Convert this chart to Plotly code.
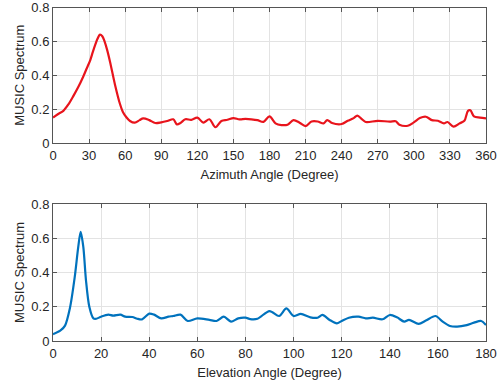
import plotly.graph_objects as go

az_deg = [0, 4, 8.6, 13, 17, 21, 25, 28, 31, 33, 35, 37, 39, 41, 43, 45, 47.4, 51.5, 55.7, 58, 61, 64, 68,
          72, 75, 80, 85, 90, 95, 100, 103, 106, 110, 115, 120, 125, 130, 135, 140, 145, 150, 155,
          160, 165, 170, 175, 180, 185, 190, 195, 200, 205, 210, 215, 220, 225, 228, 232, 240, 245,
          250, 253, 257, 260, 270, 280, 285, 288, 295, 300, 305, 310, 315, 320, 325, 328, 333, 338,
          342, 345, 347, 350, 355, 360]
az_val = [0.15, 0.17, 0.19, 0.23, 0.278, 0.33, 0.39, 0.44, 0.49, 0.535, 0.578, 0.615, 0.64, 0.63, 0.597, 0.55,
          0.48, 0.346, 0.23, 0.185, 0.152, 0.13, 0.12,
          0.135, 0.145, 0.135, 0.118, 0.122, 0.13, 0.14, 0.11, 0.118, 0.14, 0.137, 0.15, 0.12, 0.14,
          0.093, 0.13, 0.137, 0.147, 0.14,
          0.142, 0.14, 0.135, 0.125, 0.157, 0.116, 0.106, 0.108, 0.135, 0.12, 0.10, 0.127, 0.127,
          0.116, 0.135, 0.118, 0.112, 0.131,
          0.147, 0.162, 0.14, 0.124, 0.131, 0.126, 0.128, 0.108, 0.102, 0.122, 0.147, 0.155, 0.135,
          0.131, 0.116, 0.124, 0.097, 0.116,
          0.131, 0.19, 0.193, 0.157, 0.15, 0.145]

el_deg = [0, 3, 5, 7, 9, 10.5, 11.5, 12.6, 13.7, 15.1, 16.8, 18, 20, 23, 25, 28, 30, 33, 35, 37, 40,
          42, 45, 48, 50, 53, 56, 60, 65, 68, 71, 74, 77, 80, 82, 85, 90, 94, 97, 100, 103, 107, 110,
          112, 115, 118, 120, 123, 127, 130, 133, 137, 140, 143, 146, 148, 152, 155, 159, 162, 165,
          168, 172, 175, 178, 180]
el_val = [0.04, 0.06, 0.09, 0.19, 0.37, 0.55, 0.638, 0.55, 0.356, 0.2, 0.132, 0.13, 0.142, 0.154,
          0.148, 0.154, 0.142, 0.14, 0.13, 0.126, 0.16,
          0.154, 0.132, 0.142, 0.146, 0.154, 0.117, 0.132, 0.123, 0.117, 0.142, 0.113, 0.132, 0.136,
          0.128, 0.13, 0.175, 0.146, 0.19, 0.146, 0.158, 0.138, 0.136,
          0.152, 0.123, 0.103, 0.117, 0.136, 0.142, 0.132, 0.136, 0.127, 0.152, 0.138, 0.113, 0.123,
          0.10, 0.119, 0.146, 0.113, 0.088,
          0.084, 0.093, 0.107, 0.117, 0.093]

az_ticks = list(range(0, 361, 30))
el_ticks = list(range(0, 181, 20))
y_ticks = [0, 0.2, 0.4, 0.6, 0.8]
y_ticktext = ["0", "0.2", "0.4", "0.6", "0.8"]

W, H = 501, 387
FONT = "Liberation Sans, Arial, sans-serif"
TXT = "#262626"

fig = go.Figure()
fig.add_trace(go.Scatter(x=az_deg, y=az_val, mode="lines", xaxis="x", yaxis="y",
                         line=dict(color="#e8141c", width=2.2, shape="spline", smoothing=0.9),
                         showlegend=False))
fig.add_trace(go.Scatter(x=el_deg, y=el_val, mode="lines", xaxis="x2", yaxis="y2",
                         line=dict(color="#0072bd", width=2.2, shape="spline", smoothing=0.8),
                         showlegend=False))

common = dict(showline=True, linecolor="#555555", linewidth=1, mirror="ticks",
              ticks="inside", ticklen=4, tickcolor="#555555", tickwidth=1,
              showgrid=True, gridcolor="#e3e3e3", gridwidth=1, zeroline=False,
              automargin=False, ticklabeloverflow="allow",
              tickfont=dict(family=FONT, size=13, color=TXT))

x0, x1 = 53 / W, 486 / W
fig.update_layout(
    width=W, height=H,
    margin=dict(l=0, r=0, t=0, b=0),
    paper_bgcolor="white", plot_bgcolor="white",
    font=dict(family=FONT, color=TXT),
    xaxis=dict(domain=[x0, x1], anchor="y", range=[0, 360], tickvals=az_ticks,
               title=dict(text="Azimuth Angle (Degree)", font=dict(family=FONT, size=13, color=TXT),
                          standoff=8), **common),
    yaxis=dict(domain=[1 - 143 / H, 1 - 7.5 / H], anchor="x", range=[0, 0.8], tickvals=y_ticks,
               ticktext=y_ticktext,
               title=dict(text="MUSIC Spectrum", font=dict(family=FONT, size=13, color=TXT),
                          standoff=3), **common),
    xaxis2=dict(domain=[x0, x1], anchor="y2", range=[0, 180], tickvals=el_ticks,
                title=dict(text="Elevation Angle (Degree)", font=dict(family=FONT, size=13, color=TXT),
                           standoff=8), **common),
    yaxis2=dict(domain=[1 - 341 / H, 1 - 204 / H], anchor="x2", range=[0, 0.8], tickvals=y_ticks,
                ticktext=y_ticktext,
                title=dict(text="MUSIC Spectrum", font=dict(family=FONT, size=13, color=TXT),
                           standoff=3), **common),
)

fig.write_html("out.html", config={"displayModeBar": False},
               post_script="document.body.style.margin='0px';document.body.style.overflow='hidden';")
